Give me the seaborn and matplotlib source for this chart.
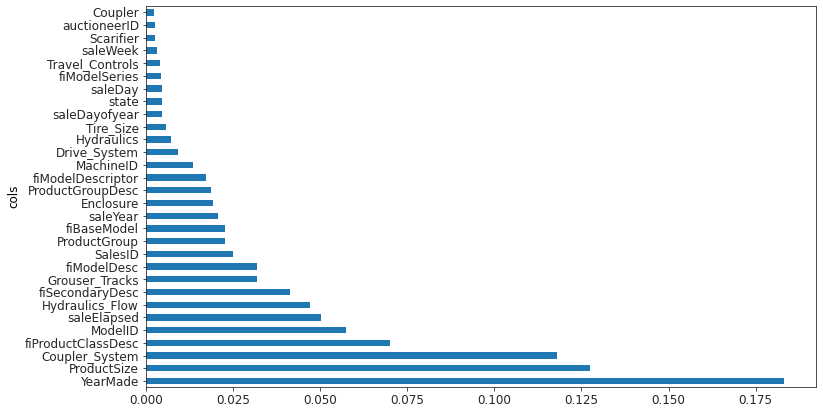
import pandas as pd
import matplotlib
matplotlib.use("Agg")
import matplotlib.pyplot as plt
import seaborn as sns

# feature importances, sorted descending (YearMade = most important)
cols = ["YearMade", "ProductSize", "Coupler_System", "fiProductClassDesc", "ModelID",
        "saleElapsed", "Hydraulics_Flow", "fiSecondaryDesc", "Grouser_Tracks", "fiModelDesc",
        "SalesID", "ProductGroup", "fiBaseModel", "saleYear", "Enclosure",
        "ProductGroupDesc", "fiModelDescriptor", "MachineID", "Drive_System", "Hydraulics",
        "Tire_Size", "saleDayofyear", "state", "saleDay", "fiModelSeries",
        "Travel_Controls", "saleWeek", "Scarifier", "auctioneerID", "Coupler"]
imp = [0.1832, 0.1274, 0.1180, 0.0700, 0.0573,
       0.0501, 0.0470, 0.0412, 0.0320, 0.0318,
       0.0251, 0.0228, 0.0226, 0.0208, 0.0193,
       0.0188, 0.0171, 0.0134, 0.0093, 0.0073,
       0.0056, 0.0046, 0.0047, 0.0045, 0.0042,
       0.0039, 0.0033, 0.0027, 0.0027, 0.0022]

fi = pd.DataFrame({"cols": cols, "imp": imp})

plt.rcParams["font.family"] = ["DejaVu Sans"]
plt.rcParams["font.size"] = 12

fig = plt.figure(figsize=(823 / 72, 414 / 72), dpi=72)
ax = fig.add_axes([146 / 823, 1 - 387.3 / 414, (816.3 - 146) / 823, (387.3 - 6) / 414])

# pandas-style barh: first row at the bottom
sns.barplot(data=fi, x="imp", y="cols", order=cols[::-1], orient="h",
            color="#1f77b4", saturation=1, width=0.5, ax=ax)

ax.set_xlim(0, 0.1924)
ax.set_ylim(len(cols) - 0.5, -0.5)
ax.set_xticks([0, 0.025, 0.05, 0.075, 0.1, 0.125, 0.15, 0.175])
ax.set_xticklabels(["0.000", "0.025", "0.050", "0.075", "0.100", "0.125", "0.150", "0.175"])
ax.tick_params(labelsize=12, colors="#262626")
ax.set_xlabel("")
ax.set_ylabel("cols", fontsize=12)
for s in ax.spines.values():
    s.set_color("#262626")

plt.savefig("out.png", dpi=72)
plt.close()
